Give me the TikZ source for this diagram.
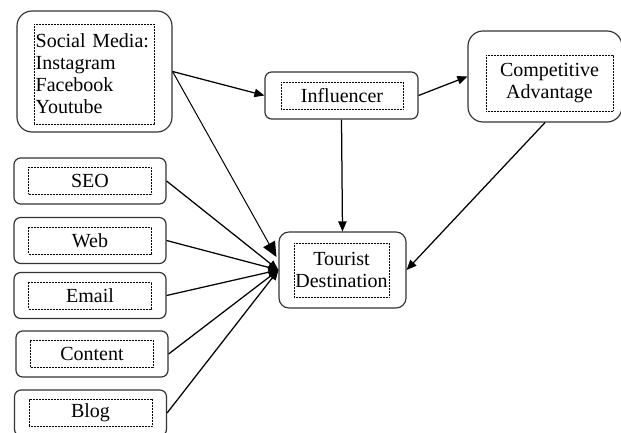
\documentclass[tikz,border=0pt]{standalone}
\usepackage{fontspec}
\setmainfont{Liberation Serif}
\newfontfamily\tnr{Liberation Serif}
\usetikzlibrary{arrows.meta,positioning,calc}

\begin{document}
\begin{tikzpicture}[
    x=0.6pt, y=-0.6pt,
    >={Triangle[length=6pt, width=5pt]},
    line width=0.75pt,
    outer/.style={draw=black!80, line width=0.7pt, rounded corners=4pt, inner sep=0pt},
    inner/.style={draw, dash pattern=on 0.4pt off 0.5pt, line width=0.5pt, inner sep=0pt,
      align=center, font=\tnr\fontsize{12}{13.5}\selectfont},
    small/.style={outer, minimum width=91.2pt, minimum height=27.6pt},
    smallin/.style={inner, minimum width=73.8pt, minimum height=16.2pt},
  ]
  \path[fill=white, use as bounding box] (0,0) rectangle (621,433);

  % sources
  \node[outer, rounded corners=9pt, minimum width=93pt, minimum height=72.6pt] (sm) at (94.5,71.5) {};
  \node[inner, align=left, minimum width=72pt, minimum height=60pt, text width=70pt,
    font=\tnr\fontsize{12}{13.2}\selectfont] (smtxt) at (94,74)
    {Social Media:\\Instagram\\Facebook\\Youtube};
  \foreach \nm/\lbl/\xx/\yy in {seo/SEO/90/181, web/Web/90/240.5, email/Email/90/295.5,
      content/Content/92/354, blog/Blog/90.5/413} {
    \node[small] (\nm) at (\xx,\yy) {};
    \node[smallin] (\nm txt) at (\xx,\yy) {\lbl};
  }

  % middle and right
  \node[outer, minimum width=91.8pt, minimum height=28.2pt] (inf) at (341.5,95.5) {};
  \node[inner, minimum width=73.2pt, minimum height=16.2pt] (inftxt) at (342,95.5) {Influencer};
  \node[outer, rounded corners=9pt, minimum width=92.4pt, minimum height=54.6pt] (ca) at (545,76.5) {};
  \node[inner, minimum width=76.2pt, minimum height=33.6pt] (catxt) at (549.5,83) {Competitive\\Advantage};
  \node[outer, rounded corners=6pt, minimum width=76.2pt, minimum height=45.6pt] (td) at (342.5,270) {};
  \node[inner, minimum width=57pt, minimum height=32.4pt] (tdtxt) at (341.5,270) {Tourist\\Destination};

  \coordinate (tdup) at ($(td.west)+(-2,-13)$);

  \draw[->] (sm.east) -- (inf.west);
  \draw[->, line width=0.6pt, >={Triangle[length=9pt, width=8pt]}] (sm.east) -- (tdup);
  \draw[->] (inf.east) -- (ca.west);
  \draw[->] (inf.south) -- (td.north);
  \draw[->] (ca.south) -- (td.east);
  \foreach \nm in {seo,web,email,content,blog}
    \draw[->] (\nm.east) -- (td.west);
\end{tikzpicture}
\end{document}
